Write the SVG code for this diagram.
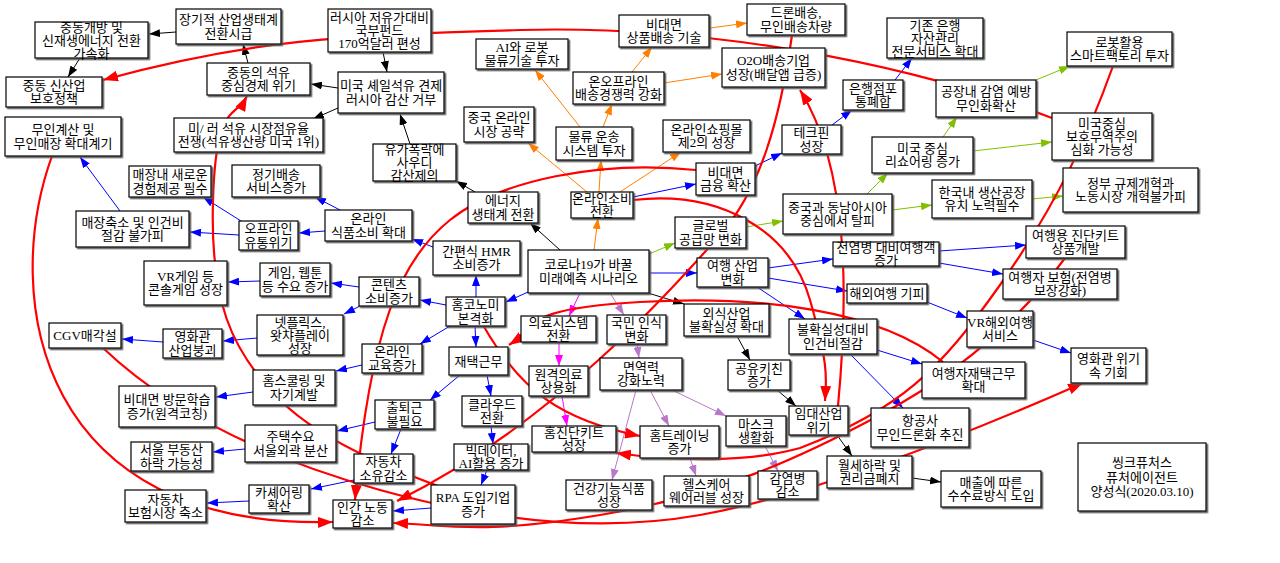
<svg xmlns="http://www.w3.org/2000/svg" width="1280" height="563" viewBox="0 0 1280 563">
<defs>
<style>
.b{fill:#fff;stroke:#000;stroke-width:1.2;filter:url(#sh)}
text{font-family:"Liberation Serif","Noto Sans CJK KR",serif;font-size:13px;text-anchor:middle;fill:#000}
.k{fill:none;stroke:#000;stroke-width:1;marker-end:url(#mk)}
.u{fill:none;stroke:#0000ff;stroke-width:1;marker-end:url(#mu)}
.o{fill:none;stroke:#ff8000;stroke-width:1;marker-end:url(#mo)}
.g{fill:none;stroke:#80c000;stroke-width:1;marker-end:url(#mg)}
.m{fill:none;stroke:#ff00ff;stroke-width:1;marker-end:url(#mm)}
.p{fill:none;stroke:#b878c8;stroke-width:1;marker-end:url(#mp)}
.r{fill:none;stroke:#ff0000;stroke-width:2.2;marker-end:url(#mr)}
</style>
<filter id="sh" x="-5%" y="-5%" width="115%" height="120%"><feDropShadow dx="1.5" dy="1.5" stdDeviation="0.2" flood-color="#555"/></filter>
<marker id="mk" markerUnits="userSpaceOnUse" markerWidth="11" markerHeight="8" refX="11" refY="4" orient="auto"><path d="M0,0L11,4L0,8z" fill="#000"/></marker>
<marker id="mu" markerUnits="userSpaceOnUse" markerWidth="11" markerHeight="8" refX="11" refY="4" orient="auto"><path d="M0,0L11,4L0,8z" fill="#0000ff"/></marker>
<marker id="mo" markerUnits="userSpaceOnUse" markerWidth="11" markerHeight="8" refX="11" refY="4" orient="auto"><path d="M0,0L11,4L0,8z" fill="#ff8000"/></marker>
<marker id="mg" markerUnits="userSpaceOnUse" markerWidth="11" markerHeight="8" refX="11" refY="4" orient="auto"><path d="M0,0L11,4L0,8z" fill="#80c000"/></marker>
<marker id="mm" markerUnits="userSpaceOnUse" markerWidth="11" markerHeight="8" refX="11" refY="4" orient="auto"><path d="M0,0L11,4L0,8z" fill="#ff00ff"/></marker>
<marker id="mp" markerUnits="userSpaceOnUse" markerWidth="11" markerHeight="8" refX="11" refY="4" orient="auto"><path d="M0,0L11,4L0,8z" fill="#b878c8"/></marker>
<marker id="mr" markerUnits="userSpaceOnUse" markerWidth="15" markerHeight="11" refX="15" refY="5.5" orient="auto"><path d="M0,0L15,5.5L0,11z" fill="#ff0000"/></marker>
</defs>
<rect width="1280" height="563" fill="#fff"/>
<g id="connectors">
<path class="k" d="M176,32L149,34"/>
<path class="k" d="M80,58L68,77"/>
<path class="k" d="M248,63L243,44"/>
<path class="k" d="M338,88L311,84"/>
<path class="k" d="M338,108L313,119"/>
<path class="k" d="M383,52L387,72"/>
<path class="k" d="M410,144L400,114"/>
<path class="k" d="M475,192L456,181"/>
<path class="k" d="M560,250L530,223"/>
<path class="k" d="M648,293L684,304"/>
<path class="k" d="M737,336L750,360"/>
<path class="k" d="M777,390L796,406"/>
<path class="k" d="M837,435L852,456"/>
<path class="k" d="M912,478L941,482"/>
<path class="u" d="M528,292L506,302"/>
<path class="u" d="M476,297L476,275"/>
<path class="u" d="M433,247L412,239"/>
<path class="u" d="M340,210L315,197"/>
<path class="u" d="M325,231L299,233"/>
<path class="u" d="M241,221L203,197"/>
<path class="u" d="M239,235L190,232"/>
<path class="u" d="M120,211L80,157"/>
<path class="u" d="M446,305L420,300"/>
<path class="u" d="M359,287L331,283"/>
<path class="u" d="M260,281L228,282"/>
<path class="u" d="M362,305L344,314"/>
<path class="u" d="M257,338L223,341"/>
<path class="u" d="M163,342L122,339"/>
<path class="u" d="M450,326L420,344"/>
<path class="u" d="M475,326L476,347"/>
<path class="u" d="M362,365L336,371"/>
<path class="u" d="M253,392L216,397"/>
<path class="u" d="M460,375L430,400"/>
<path class="u" d="M487,375L491,396"/>
<path class="u" d="M375,422L337,431"/>
<path class="u" d="M245,449L213,452"/>
<path class="u" d="M401,429L391,454"/>
<path class="u" d="M354,480L311,489"/>
<path class="u" d="M249,501L207,503"/>
<path class="u" d="M491,426L493,444"/>
<path class="u" d="M487,470L481,485"/>
<path class="u" d="M431,508L393,511"/>
<path class="u" d="M649,273L697,273"/>
<path class="u" d="M768,268L833,259"/>
<path class="u" d="M768,278L847,291"/>
<path class="u" d="M757,287L805,319"/>
<path class="u" d="M939,251L1026,245"/>
<path class="u" d="M939,263L1003,274"/>
<path class="u" d="M927,302L967,318"/>
<path class="u" d="M1033,340L1071,353"/>
<path class="u" d="M877,350L922,364"/>
<path class="u" d="M850,354L903,408"/>
<path class="u" d="M633,197L696,184"/>
<path class="u" d="M755,166L782,153"/>
<path class="u" d="M832,125L852,110"/>
<path class="u" d="M895,80L912,58"/>
<path class="o" d="M594,250L598,218"/>
<path class="o" d="M587,192L528,143"/>
<path class="o" d="M599,192L601,160"/>
<path class="o" d="M620,192L681,152"/>
<path class="o" d="M580,127L535,70"/>
<path class="o" d="M603,127L612,104"/>
<path class="o" d="M632,72L652,47"/>
<path class="o" d="M664,83L722,74"/>
<path class="o" d="M710,28L747,23"/>
<path class="g" d="M649,254L675,243"/>
<path class="g" d="M746,227L783,221"/>
<path class="g" d="M867,194L888,173"/>
<path class="g" d="M892,210L932,205"/>
<path class="g" d="M943,137L957,117"/>
<path class="g" d="M973,151L1052,142"/>
<path class="g" d="M1036,80L1070,66"/>
<path class="g" d="M1032,199L1063,196"/>
<path class="m" d="M580,293L569,316"/>
<path class="m" d="M559,342L559,366"/>
<path class="m" d="M562,396L567,426"/>
<path class="p" d="M610,293L624,315"/>
<path class="p" d="M637,344L639,358"/>
<path class="p" d="M636,390L612,480"/>
<path class="p" d="M650,390L669,426"/>
<path class="p" d="M672,390L726,416"/>
<path class="p" d="M690,458L696,476"/>
<path class="p" d="M765,446L778,471"/>
<path class="r" d="M1052,118C900,60 700,25 520,30S250,40 103,80"/>
<path class="r" d="M52,156C0,300 40,530 333,522"/>
<path class="r" d="M103,348Q200,440 380,490T700,515T1083,383"/>
<path class="r" d="M1113,66C1090,130 1060,200 1000,285S900,410 800,448C750,462 680,462 616,453"/>
<path class="r" d="M1065,258C1020,320 960,372 880,415S720,495 600,515S450,525 393,523"/>
<path class="r" d="M696,170C600,160 500,180 450,220S370,330 355,500"/>
<path class="r" d="M792,35C780,120 760,190 720,235S560,420 397,501"/>
<path class="r" d="M483,325C520,390 560,420 640,436"/>
<path class="r" d="M943,362C880,310 760,295 640,302S540,325 509,345"/>
<path class="r" d="M633,200C720,190 790,230 810,300S826,380 825,401"/>
<path class="r" d="M838,406C848,300 850,170 800,90"/>
<path class="r" d="M515,514C420,480 330,450 280,400S210,300 213,200S235,120 247,96"/>
</g>
<g id="n1"><rect class="b" x="35" y="22" width="113" height="36"/><text x="91.5" y="31.5">중동개방 및</text><text x="91.5" y="44.5">신재생에너지 전환</text><text x="91.5" y="57.5">가속화</text></g>
<g id="n2"><rect class="b" x="176" y="9" width="105" height="35"/><text x="228.5" y="24.25">장기적 산업생태계</text><text x="228.5" y="37.75">전환시급</text></g>
<g id="n3"><rect class="b" x="6" y="77" width="96" height="30"/><text x="54" y="89.75">중동 신산업</text><text x="54" y="103.25">보호정책</text></g>
<g id="n4"><rect class="b" x="207" y="63" width="103" height="32"/><text x="258.5" y="76.75">중동의 석유</text><text x="258.5" y="90.25">중심경제 위기</text></g>
<g id="n5"><rect class="b" x="5" y="117" width="116" height="39"/><text x="63" y="134.25">무인계산 및</text><text x="63" y="147.75">무인매장 확대계기</text></g>
<g id="n6"><rect class="b" x="174" y="118" width="149" height="34"/><text x="248.5" y="132.75">미/ 러 석유 시장점유율</text><text x="248.5" y="146.25">전쟁(석유생산량 미국 1위)</text></g>
<g id="n7"><rect class="b" x="129" y="166" width="82" height="31"/><text x="170" y="179.25">매장내 새로운</text><text x="170" y="192.75">경험제공 필수</text></g>
<g id="n8"><rect class="b" x="232" y="165" width="88" height="32"/><text x="276" y="178.75">정기배송</text><text x="276" y="192.25">서비스증가</text></g>
<g id="n9"><rect class="b" x="328" y="9" width="103" height="43"/><text x="379.5" y="22">러시아 저유가대비</text><text x="379.5" y="35">국부펀드</text><text x="379.5" y="48">170억달러 편성</text></g>
<g id="n10"><rect class="b" x="338" y="72" width="106" height="41"/><text x="391" y="90.25">미국 셰일석유 견제</text><text x="391" y="103.75">러시아 감산 거부</text></g>
<g id="n11"><rect class="b" x="476" y="39" width="92" height="30"/><text x="522" y="51.75">AI와 로봇</text><text x="522" y="65.25">물류기술 투자</text></g>
<g id="n12"><rect class="b" x="464" y="107" width="70" height="35"/><text x="499" y="122.25">중국 온라인</text><text x="499" y="135.75">시장 공략</text></g>
<g id="n13"><rect class="b" x="373" y="144" width="83" height="37"/><text x="414.5" y="154">유가폭락에</text><text x="414.5" y="167">사우디</text><text x="414.5" y="180">감산제의</text></g>
<g id="n14"><rect class="b" x="556" y="127" width="76" height="33"/><text x="594" y="141.25">물류 운송</text><text x="594" y="154.75">시스템 투자</text></g>
<g id="n15"><rect class="b" x="573" y="72" width="91" height="32"/><text x="618.5" y="85.75">온오프라인</text><text x="618.5" y="99.25">배송경쟁력 강화</text></g>
<g id="n16"><rect class="b" x="619" y="15" width="90" height="32"/><text x="664" y="28.75">비대면</text><text x="664" y="42.25">상품배송 기술</text></g>
<g id="n17"><rect class="b" x="747" y="4" width="98" height="31"/><text x="796" y="17.25">드론배송,</text><text x="796" y="30.75">무인배송차량</text></g>
<g id="n18"><rect class="b" x="722" y="48" width="103" height="39"/><text x="773.5" y="65.25">O2O배송기업</text><text x="773.5" y="78.75">성장(배달앱 급증)</text></g>
<g id="n19"><rect class="b" x="887" y="18" width="96" height="40"/><text x="935" y="29.5">기존 은행</text><text x="935" y="42.5">자산관리</text><text x="935" y="55.5">전문서비스 확대</text></g>
<g id="n20"><rect class="b" x="843" y="80" width="60" height="30"/><text x="873" y="92.75">은행점포</text><text x="873" y="106.25">통폐합</text></g>
<g id="n21"><rect class="b" x="663" y="120" width="87" height="32"/><text x="706.5" y="133.75">온라인쇼핑몰</text><text x="706.5" y="147.25">제2의 성장</text></g>
<g id="n22"><rect class="b" x="782" y="125" width="59" height="29"/><text x="811.5" y="137.25">테크핀</text><text x="811.5" y="150.75">성장</text></g>
<g id="n23"><rect class="b" x="696" y="163" width="59" height="32"/><text x="725.5" y="176.75">비대면</text><text x="725.5" y="190.25">금융 확산</text></g>
<g id="n24"><rect class="b" x="872" y="137" width="101" height="36"/><text x="922.5" y="152.75">미국 중심</text><text x="922.5" y="166.25">리쇼어링 증가</text></g>
<g id="n25"><rect class="b" x="936" y="80" width="100" height="37"/><text x="986" y="96.25">공장내 감염 예방</text><text x="986" y="109.75">무인화확산</text></g>
<g id="n26"><rect class="b" x="1067" y="32" width="105" height="34"/><text x="1119.5" y="46.75">로봇활용</text><text x="1119.5" y="60.25">스마트팩토리 투자</text></g>
<g id="n27"><rect class="b" x="1052" y="113" width="100" height="47"/><text x="1102" y="128">미국중심</text><text x="1102" y="141">보호무역주의</text><text x="1102" y="154">심화 가능성</text></g>
<g id="n28"><rect class="b" x="1063" y="168" width="135" height="44"/><text x="1130.5" y="187.75">정부 규제개혁과</text><text x="1130.5" y="201.25">노동시장 개혁불가피</text></g>
<g id="n29"><rect class="b" x="932" y="180" width="100" height="38"/><text x="982" y="196.75">한국내 생산공장</text><text x="982" y="210.25">유치 노력필수</text></g>
<g id="n30"><rect class="b" x="76" y="211" width="113" height="36"/><text x="132.5" y="226.75">매장축소 및 인건비</text><text x="132.5" y="240.25">절감 불가피</text></g>
<g id="n31"><rect class="b" x="239" y="221" width="59" height="29"/><text x="268.5" y="233.25">오프라인</text><text x="268.5" y="246.75">유통위기</text></g>
<g id="n32"><rect class="b" x="144" y="261" width="83" height="44"/><text x="185.5" y="280.75">VR게임 등</text><text x="185.5" y="294.25">콘솔게임 성장</text></g>
<g id="n33"><rect class="b" x="260" y="263" width="70" height="33"/><text x="295" y="277.25">게임, 웹툰</text><text x="295" y="290.75">등 수요 증가</text></g>
<g id="n34"><rect class="b" x="49" y="323" width="72" height="25"/><text x="85" y="340">CGV매각설</text></g>
<g id="n35"><rect class="b" x="163" y="329" width="59" height="29"/><text x="192.5" y="341.25">영화관</text><text x="192.5" y="354.75">산업붕괴</text></g>
<g id="n36"><rect class="b" x="257" y="315" width="86" height="40"/><text x="300" y="326.5">넷플릭스,</text><text x="300" y="339.5">왓챠플레이</text><text x="300" y="352.5">성장</text></g>
<g id="n37"><rect class="b" x="325" y="210" width="87" height="31"/><text x="368.5" y="223.25">온라인</text><text x="368.5" y="236.75">식품소비 확대</text></g>
<g id="n38"><rect class="b" x="468" y="192" width="70" height="31"/><text x="503" y="205.25">에너지</text><text x="503" y="218.75">생태계 전환</text></g>
<g id="n39"><rect class="b" x="571" y="192" width="62" height="26"/><text x="602" y="202.75">온라인소비</text><text x="602" y="216.25">전환</text></g>
<g id="n40"><rect class="b" x="433" y="241" width="87" height="34"/><text x="476.5" y="255.75">간편식 HMR</text><text x="476.5" y="269.25">소비증가</text></g>
<g id="n41"><rect class="b" x="528" y="250" width="121" height="43"/><text x="588.5" y="269.25">코로나19가 바꿀</text><text x="588.5" y="282.75">미래예측 시나리오</text></g>
<g id="n42"><rect class="b" x="359" y="277" width="60" height="29"/><text x="389" y="289.25">콘텐츠</text><text x="389" y="302.75">소비증가</text></g>
<g id="n43"><rect class="b" x="446" y="297" width="59" height="29"/><text x="475.5" y="309.25">홈코노미</text><text x="475.5" y="322.75">본격화</text></g>
<g id="n44"><rect class="b" x="521" y="316" width="75" height="26"/><text x="558.5" y="326.75">의료시스템</text><text x="558.5" y="340.25">전환</text></g>
<g id="n45"><rect class="b" x="607" y="315" width="59" height="29"/><text x="636.5" y="327.25">국민 인식</text><text x="636.5" y="340.75">변화</text></g>
<g id="n46"><rect class="b" x="362" y="344" width="60" height="29"/><text x="392" y="356.25">온라인</text><text x="392" y="369.75">교육증가</text></g>
<g id="n47"><rect class="b" x="449" y="347" width="59" height="28"/><text x="478.5" y="365.5">재택근무</text></g>
<g id="n48"><rect class="b" x="783" y="194" width="109" height="40"/><text x="837.5" y="211.75">중국과 동남아시아</text><text x="837.5" y="225.25">중심에서 탈피</text></g>
<g id="n49"><rect class="b" x="675" y="217" width="71" height="31"/><text x="710.5" y="230.25">글로벌</text><text x="710.5" y="243.75">공급망 변화</text></g>
<g id="n50"><rect class="b" x="833" y="242" width="106" height="24"/><text x="886" y="251.75">전염병 대비여행객</text><text x="886" y="265.25">증가</text></g>
<g id="n51"><rect class="b" x="697" y="258" width="71" height="29"/><text x="732.5" y="270.25">여행 산업</text><text x="732.5" y="283.75">변화</text></g>
<g id="n52"><rect class="b" x="847" y="284" width="80" height="19"/><text x="887" y="298">해외여행 기피</text></g>
<g id="n53"><rect class="b" x="684" y="304" width="85" height="32"/><text x="726.5" y="317.75">외식산업</text><text x="726.5" y="331.25">불확실성 확대</text></g>
<g id="n54"><rect class="b" x="789" y="319" width="88" height="35"/><text x="833" y="334.25">불확실성대비</text><text x="833" y="347.75">인건비절감</text></g>
<g id="n55"><rect class="b" x="728" y="360" width="62" height="30"/><text x="759" y="372.75">공유키친</text><text x="759" y="386.25">증가</text></g>
<g id="n56"><rect class="b" x="922" y="362" width="103" height="36"/><text x="973.5" y="377.75">여행자재택근무</text><text x="973.5" y="391.25">확대</text></g>
<g id="n57"><rect class="b" x="1026" y="226" width="99" height="32"/><text x="1075.5" y="239.75">여행용 진단키트</text><text x="1075.5" y="253.25">상품개발</text></g>
<g id="n58"><rect class="b" x="1003" y="269" width="114" height="30"/><text x="1060" y="281.75">여행자 보험(전염병</text><text x="1060" y="295.25">보장강화)</text></g>
<g id="n59"><rect class="b" x="967" y="311" width="66" height="36"/><text x="1000" y="326.75">VR해외여행</text><text x="1000" y="340.25">서비스</text></g>
<g id="n60"><rect class="b" x="1071" y="348" width="75" height="35"/><text x="1108.5" y="363.25">영화관 위기</text><text x="1108.5" y="376.75">속 기회</text></g>
<g id="n61"><rect class="b" x="253" y="370" width="82" height="35"/><text x="294" y="385.25">홈스쿨링 및</text><text x="294" y="398.75">자기계발</text></g>
<g id="n62"><rect class="b" x="119" y="386" width="96" height="41"/><text x="167" y="404.25">비대면 방문학습</text><text x="167" y="417.75">증가(원격코칭)</text></g>
<g id="n63"><rect class="b" x="245" y="425" width="91" height="37"/><text x="290.5" y="441.25">주택수요</text><text x="290.5" y="454.75">서울외곽 분산</text></g>
<g id="n64"><rect class="b" x="131" y="442" width="81" height="29"/><text x="171.5" y="454.25">서울 부동산</text><text x="171.5" y="467.75">하락 가능성</text></g>
<g id="n65"><rect class="b" x="249" y="485" width="60" height="28"/><text x="279" y="496.75">카셰어링</text><text x="279" y="510.25">확산</text></g>
<g id="n66"><rect class="b" x="125" y="490" width="81" height="32"/><text x="165.5" y="503.75">자동차</text><text x="165.5" y="517.25">보험시장 축소</text></g>
<g id="n67"><rect class="b" x="375" y="400" width="59" height="29"/><text x="404.5" y="412.25">출퇴근</text><text x="404.5" y="425.75">불필요</text></g>
<g id="n68"><rect class="b" x="462" y="396" width="60" height="30"/><text x="492" y="408.75">클라우드</text><text x="492" y="422.25">전환</text></g>
<g id="n69"><rect class="b" x="529" y="366" width="59" height="30"/><text x="558.5" y="378.75">원격의료</text><text x="558.5" y="392.25">상용화</text></g>
<g id="n70"><rect class="b" x="532" y="426" width="84" height="26"/><text x="574" y="436.75">홈진단키트</text><text x="574" y="450.25">성장</text></g>
<g id="n71"><rect class="b" x="454" y="444" width="74" height="26"/><text x="491" y="454.75">빅데이터,</text><text x="491" y="468.25">AI활용 증가</text></g>
<g id="n72"><rect class="b" x="354" y="454" width="59" height="29"/><text x="383.5" y="466.25">자동차</text><text x="383.5" y="479.75">소유감소</text></g>
<g id="n73"><rect class="b" x="431" y="485" width="84" height="39"/><text x="473" y="502.25">RPA 도입기업</text><text x="473" y="515.75">증가</text></g>
<g id="n74"><rect class="b" x="333" y="500" width="59" height="28"/><text x="362.5" y="511.75">인간 노동</text><text x="362.5" y="525.25">감소</text></g>
<g id="n75"><rect class="b" x="566" y="480" width="86" height="30"/><text x="609" y="492.75">건강기능식품</text><text x="609" y="506.25">성장</text></g>
<g id="n76"><rect class="b" x="600" y="358" width="82" height="32"/><text x="641" y="371.75">면역력</text><text x="641" y="385.25">강화노력</text></g>
<g id="n77"><rect class="b" x="789" y="406" width="59" height="29"/><text x="818.5" y="418.25">임대산업</text><text x="818.5" y="431.75">위기</text></g>
<g id="n78"><rect class="b" x="726" y="416" width="60" height="30"/><text x="756" y="428.75">마스크</text><text x="756" y="442.25">생활화</text></g>
<g id="n79"><rect class="b" x="640" y="426" width="79" height="32"/><text x="679.5" y="439.75">홈트레이닝</text><text x="679.5" y="453.25">증가</text></g>
<g id="n80"><rect class="b" x="871" y="408" width="98" height="39"/><text x="920" y="425.25">항공사</text><text x="920" y="438.75">무인드론화 추진</text></g>
<g id="n81"><rect class="b" x="827" y="456" width="85" height="32"/><text x="869.5" y="469.75">월세하락 및</text><text x="869.5" y="483.25">권리금폐지</text></g>
<g id="n82"><rect class="b" x="664" y="476" width="85" height="30"/><text x="706.5" y="488.75">헬스케어</text><text x="706.5" y="502.25">웨어러블 성장</text></g>
<g id="n83"><rect class="b" x="758" y="471" width="59" height="28"/><text x="787.5" y="482.75">감염병</text><text x="787.5" y="496.25">감소</text></g>
<g id="n84"><rect class="b" x="941" y="471" width="100" height="36"/><text x="991" y="486.75">매출에 따른</text><text x="991" y="500.25">수수료방식 도입</text></g>
<g id="n85"><rect class="b" x="1078" y="443" width="128" height="68"/><text x="1142" y="466.5">씽크퓨처스</text><text x="1142" y="481.5">퓨처에이전트</text><text x="1142" y="496">양성식(2020.03.10)</text></g>
</svg>
